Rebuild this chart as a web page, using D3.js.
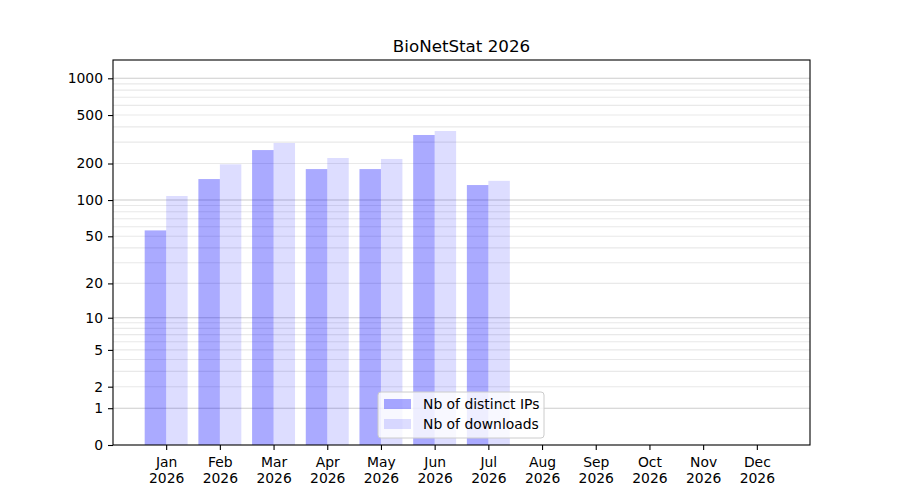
<!DOCTYPE html>
<html>
<head>
<meta charset="utf-8">
<script src="https://cdn.jsdelivr.net/npm/d3@7"></script>
<style>
  body { margin: 0; background: #fff; }
  text { font-family: "DejaVu Sans", sans-serif; fill: #000; }
</style>
</head>
<body>
<div id="chart"></div>
<script>
// monthly stats
var months = ["Jan", "Feb", "Mar", "Apr", "May", "Jun", "Jul", "Aug", "Sep", "Oct", "Nov", "Dec"];
var year = "2026";
var distinctIPs = [56, 149, 258, 180, 180, 343, 133, 0, 0, 0, 0, 0];
var downloads = [108, 197, 295, 222, 218, 370, 144, 0, 0, 0, 0, 0];
var yTicks = [0, 1, 2, 5, 10, 20, 50, 100, 200, 500, 1000];
var majorGrid = [1, 10, 100, 1000];
var minorGrid = [];
[1, 10, 100].forEach(d => {
  for (var k = 2; k <= 9; k++) minorGrid.push(k * d);
});

var width = 900, height = 500;
var margin = {top: 60, right: 90, bottom: 55, left: 113};
var innerW = width - margin.left - margin.right,
    innerH = height - margin.top - margin.bottom;
var fontSize = "13.9px";

var svg = d3.select("#chart").append("svg")
    .attr("width", width)
    .attr("height", height);

var g = svg.append("g")
    .attr("transform", "translate(" + margin.left + "," + margin.top + ")");

// month index axis with matplotlib-like padding
var x = d3.scaleLinear()
    .domain([-0.99, 11.99])
    .range([0, innerW]);
var barW = x(0.4) - x(0);

var y = d3.scaleSymlog()
    .constant(1)
    .domain([0, 1412])
    .range([innerH, 0]);

// grid
g.append("g").selectAll("line")
  .data(minorGrid)
  .enter().append("line")
    .attr("x1", 0).attr("x2", innerW)
    .attr("y1", d => y(d)).attr("y2", d => y(d))
    .attr("stroke", "#b0b0b0")
    .attr("stroke-opacity", 0.28)
    .attr("stroke-width", 1.1);

g.append("g").selectAll("line")
  .data(majorGrid)
  .enter().append("line")
    .attr("x1", 0).attr("x2", innerW)
    .attr("y1", d => y(d)).attr("y2", d => y(d))
    .attr("stroke", "#b0b0b0")
    .attr("stroke-opacity", 0.65)
    .attr("stroke-width", 1.1);

// bars
g.append("g").selectAll("rect")
  .data(distinctIPs)
  .enter().append("rect")
    .attr("x", (d, i) => x(i) - barW)
    .attr("y", d => y(d))
    .attr("width", barW)
    .attr("height", d => y(0) - y(d))
    .attr("fill", "blue")
    .attr("fill-opacity", 0.333);

g.append("g").selectAll("rect")
  .data(downloads)
  .enter().append("rect")
    .attr("x", (d, i) => x(i))
    .attr("y", d => y(d))
    .attr("width", barW)
    .attr("height", d => y(0) - y(d))
    .attr("fill", "blue")
    .attr("fill-opacity", 0.133);

// axes
var yAxis = d3.axisLeft(y)
    .tickValues(yTicks)
    .tickFormat(d3.format("d"))
    .tickSize(5)
    .tickPadding(5);
var ya = g.append("g").call(yAxis);

var xAxis = d3.axisBottom(x)
    .tickValues(d3.range(months.length))
    .tickFormat("")
    .tickSize(5);
var xa = g.append("g")
    .attr("transform", "translate(0," + innerH + ")")
    .call(xAxis);

[ya, xa].forEach(a => {
  a.select(".domain").remove();
  a.selectAll("line").attr("stroke", "#000").attr("stroke-width", 1.1);
  a.selectAll("text").style("font-size", fontSize).attr("fill", "#000");
});

var labels = xa.selectAll(".tick").append("text")
    .attr("text-anchor", "middle")
    .style("font-size", fontSize)
    .attr("fill", "#000");
labels.append("tspan").attr("x", 0).attr("y", 22).text(d => months[d]);
labels.append("tspan").attr("x", 0).attr("y", 38).text(year);

// frame
g.append("rect")
    .attr("width", innerW)
    .attr("height", innerH)
    .attr("fill", "none")
    .attr("stroke", "#000")
    .attr("stroke-width", 1.1);

// title
svg.append("text")
    .attr("x", margin.left + innerW / 2)
    .attr("y", 52)
    .attr("text-anchor", "middle")
    .style("font-size", "16.7px")
    .text("BioNetStat " + year);

// legend
var legend = g.append("g")
    .attr("transform", "translate(" + (378 - margin.left) + "," + (392 - margin.top) + ")");
legend.append("rect")
    .attr("width", 166)
    .attr("height", 46)
    .attr("rx", 3)
    .attr("fill", "#fff")
    .attr("fill-opacity", 0.8)
    .attr("stroke", "#cccccc");
var entries = [
  {label: "Nb of distinct IPs", opacity: 0.333},
  {label: "Nb of downloads", opacity: 0.133}
];
entries.forEach((e, i) => {
  var row = legend.append("g").attr("transform", "translate(6," + (7 + i * 20) + ")");
  row.append("rect")
      .attr("width", 27)
      .attr("height", 10)
      .attr("fill", "blue")
      .attr("fill-opacity", e.opacity);
  row.append("text")
      .attr("x", 39)
      .attr("y", 10)
      .style("font-size", fontSize)
      .text(e.label);
});
</script>
</body>
</html>
